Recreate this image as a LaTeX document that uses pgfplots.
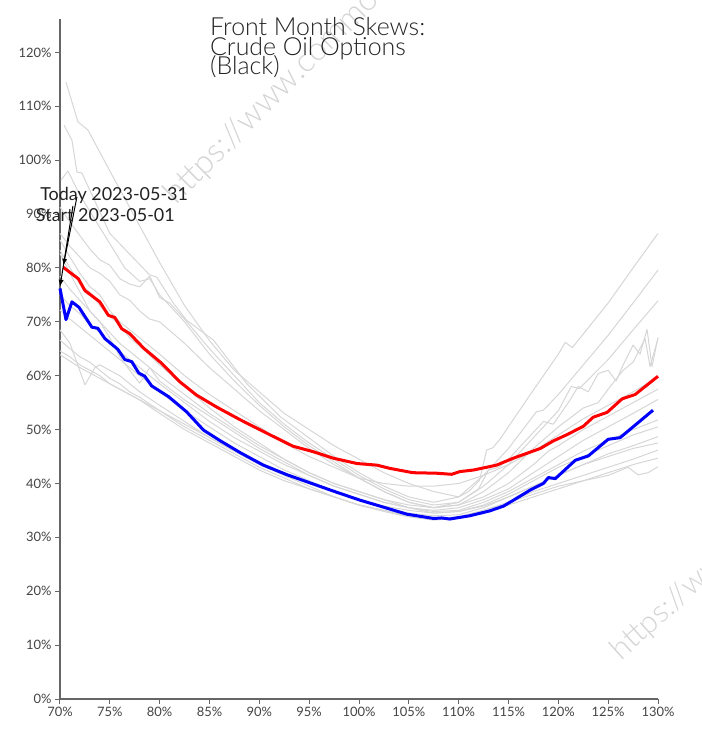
\documentclass[border=0pt]{standalone}
\usepackage{fontspec}
\setmainfont{Lato}
\newfontfamily\lightfont{Lato Light}
\usepackage{pgfplots}
\pgfplotsset{compat=1.18}
\usetikzlibrary{arrows.meta}
\definecolor{tickgray}{HTML}{444444}
\definecolor{axgray}{HTML}{666666}
\definecolor{skewgray}{HTML}{D6D6D6}
\definecolor{wm}{HTML}{D4D4D4}
\begin{document}
\begin{tikzpicture}
\useasboundingbox (-60bp,-31bp) rectangle (642bp,699bp);
\begin{axis}[
  width=598bp, height=680bp, scale only axis,
  xmin=70, xmax=130, ymin=0, ymax=126.2,
  clip=false,
  axis lines=left,
  axis line style={draw=axgray, line width=1.3bp, -},
  tick style={draw=axgray, line width=1bp},
  tick align=outside, major tick length=5bp,
  xtick={70,75,...,130}, ytick={0,10,...,120},
  xticklabel={\pgfmathprintnumber{\tick}\%},
  yticklabel={\pgfmathprintnumber{\tick}\%},
  /pgf/number format/assume math mode=true,
  ticklabel style={font=\fontsize{13}{13}\selectfont, text=tickgray},
  every axis plot/.append style={line join=round, mark=none},
  grey/.style={draw=skewgray, line width=1bp},
]
% watermarks
\node[overlay, anchor=base west, rotate=45, text=wm, font=\lightfont\fontsize{33}{33}\selectfont, inner sep=0] at (axis cs:81.7,91.6) {https://www.commodity};
\node[overlay, anchor=base west, rotate=42, text=wm, font=\lightfont\fontsize{31}{31}\selectfont, inner sep=0] at (axis cs:126.3,7.0) {https://www.commodity};
% grey historical skews
\addplot[grey] coordinates {(70.6,114.5) (71.8,107.1) (72.8,105.6) (75,98) (77.5,89.5) (80,81) (82.5,73) (85,66.5) (87.5,61) (90,57) (92.5,53) (95,50) (97.5,47) (100,44.5) (102.5,42) (105,40) (107.5,38.5) (110,37.5) (111,38.5) (112.1,40.6) (112.8,46.2) (113.4,46.6) (114.1,48.1) (117,56) (120,64) (120.7,66.2) (121.4,65.2) (125,73.5) (127.5,80) (130,86.4)};
\addplot[grey] coordinates {(70.4,106.5) (71.2,103.7) (71.7,97.8) (72.2,97.6) (75,86.4) (79,78.7) (79.7,78.3) (81.4,73.4) (82.7,70.3) (85.4,66.6) (88.7,58.6) (92.1,52.4) (94.8,48.7) (97.5,45) (100,42) (102.5,39.5) (105,37.5) (107.5,36.5) (110,37.5) (112.5,41.5) (115,46.5) (117.8,53.3) (118.5,53.6) (120,56.5) (122.5,62) (125,67.5) (127.5,73.5) (130,79.6)};
\addplot[grey] coordinates {(70.1,96.3) (70.8,98) (72,93.5) (73.5,89) (75,84.5) (76.5,80) (78,77.5) (79,78) (80,75) (82.5,70) (85,64) (87.5,59) (90,54.5) (92.5,50.5) (95,47) (97.5,44) (100,41) (102.5,38.5) (105,36.5) (107.5,35.5) (110,36.5) (112.5,39.5) (115,43.5) (117.5,48.5) (120,53.5) (121.3,58) (122.1,57.6) (125,63) (127.5,68.5) (130,73.9)};
\addplot[grey] coordinates {(70,91.3) (71,88.5) (72,86) (73,83.5) (74,81.5) (75,80.5) (76,78) (77,77) (78,76.5) (79,78.5) (80,74.5) (81,73.5) (82.5,70.5) (85,65) (87.5,60) (90,55) (92.5,51) (95,47.5) (97.5,44.5) (100,41.5) (102.5,39) (105,37) (107.5,36) (110,36.5) (112,39) (113,42.5) (114,43) (115,44.5) (117.5,49.5) (118.5,51.5) (119.5,51) (121,55) (122,58) (123,57) (124,60.4) (125,61) (125.8,59) (126.5,62) (127.5,65.7) (128.2,64) (128.9,68.6) (129.4,61.7) (130,67.1)};
\addplot[grey] coordinates {(70,86.4) (71,84) (72,82) (73,80) (74,79) (75,77.5) (76,75) (77,74) (78,72) (79,70.5) (80,70) (82.5,66) (85,61.5) (87.5,57.5) (90,53.5) (92.5,50) (95,46.5) (97.5,43.5) (100,41) (102.5,38.5) (105,36.5) (107.5,35.5) (110,36) (112.5,38.5) (115,42) (117.5,46.5) (120,50.5) (122.5,54) (124,55) (125,57.5) (126.5,61) (127.5,62.5) (128.7,66.9) (129.2,61.7) (130,66.9)};
\addplot[grey] coordinates {(70,85.2) (71,82) (72,79) (73,76.5) (74,75) (75,72) (76,70) (77,68.5) (78,67) (80,64) (82.5,60) (85,56.5) (87.5,53.5) (90,50.5) (92.5,47.5) (95,45) (97.5,43) (100,41) (102.5,40) (105,39.5) (107.5,39.5) (110,40) (112.5,41.5) (115,43.5) (117.5,46) (120,49) (122.5,52) (125,54.5) (127.5,57) (130,59.7)};
\addplot[grey] coordinates {(70,83.3) (71,80) (72,77) (73,75.5) (74,73) (75,71) (76,69.5) (77,67) (78,65.5) (80,62) (82.5,58) (85,54) (87.5,50.5) (90,47.5) (92.5,44.5) (95,42) (97.5,40) (100,38.5) (102.5,37) (105,36) (107.5,35.5) (110,36) (112.5,37.5) (115,40) (117.5,43.5) (119,46) (120,47) (122.5,50) (125,52.5) (127.5,55) (130,57.5)};
\addplot[grey] coordinates {(70,82.7) (71,79) (72,75.5) (73,72) (74,70) (75,67) (76,63.5) (77,61) (78,58.6) (79,61.5) (80,59) (82.5,55.5) (85,52.5) (87.5,49.5) (90,46.5) (92.5,44) (95,41.5) (97.5,39.5) (100,38) (102.5,36.5) (105,35.5) (107.5,35) (110,35.5) (112.5,37) (115,39) (117.5,42) (120,45) (122.5,48) (125,50.5) (127.5,53) (130,55.6)};
\addplot[grey] coordinates {(70,78.5) (71,76) (72,74) (73,72) (74,70) (75,68) (76,66) (77,64.5) (78,63) (80,60) (82.5,56.5) (85,53) (87.5,50) (90,47) (92.5,44.5) (95,42) (97.5,40) (100,38.5) (102.5,37) (105,35.5) (107.5,34.8) (110,35) (112.5,36.5) (115,38.5) (117.5,41) (120,43.5) (122.5,46) (125,48) (127.5,50) (130,51.8)};
\addplot[grey] coordinates {(70,75) (71,73) (72,71.5) (73,69.5) (74,68) (75,66) (76,64.5) (77,63) (78,61.5) (80,58.5) (82.5,55) (85,51.5) (87.5,48.5) (90,46) (92.5,43.5) (95,41.5) (97.5,39.5) (100,38) (102.5,36.5) (105,35.5) (107.5,34.5) (110,34.8) (112.5,36) (115,38) (117.5,40.5) (120,43) (122.5,45) (125,47) (127.5,49) (130,50.5)};
\addplot[grey] coordinates {(70,72.2) (71,70.5) (72,69) (73,67.5) (74,66) (75,64.5) (76,63) (77,61.5) (78,60) (80,57) (82.5,53.5) (85,50.5) (87.5,47.5) (90,45) (92.5,42.5) (95,40.5) (97.5,38.5) (100,37) (102.5,35.5) (105,34.5) (107.5,34) (110,34.2) (112.5,35.5) (115,37.5) (117.5,39.5) (120,41.5) (122.5,43.5) (125,45.5) (127.5,47) (130,48.7)};
\addplot[grey] coordinates {(70,68.5) (71,66) (72.5,58.3) (73.5,61.5) (74,62) (75,61) (76,60) (77,58.5) (78,57) (80,54.5) (82.5,51.5) (85,48.5) (87.5,46) (90,43.5) (92.5,41.5) (95,39.5) (97.5,37.5) (100,36) (102.5,35) (105,34) (107.5,33.5) (110,33.8) (112.5,35) (115,36.5) (117.5,38.5) (120,40) (122.5,41.5) (125,43) (127.5,44.5) (130,46.2)};
\addplot[grey] coordinates {(70,66.6) (71,65) (72,63.5) (73,62.5) (74,61) (75,59.5) (76,58.5) (77,57) (78,56) (80,53.5) (82.5,50.5) (85,48) (87.5,45.5) (90,43) (92.5,41) (95,39) (97.5,37.5) (100,36) (102.5,34.8) (105,33.8) (107.5,33.2) (110,33.5) (112.5,34.5) (115,36) (117.5,37.5) (120,39) (122.5,40.5) (125,42) (127.5,43.5) (130,44.7)};
\addplot[grey] coordinates {(70,64.6) (71,63.5) (72,62) (73,61) (74,60) (75,58.5) (76,57.5) (77,56.5) (78,55.5) (80,53) (82.5,50) (85,47.5) (87.5,45) (90,42.5) (92.5,40.5) (95,39) (97.5,37.5) (100,36) (102.5,35) (105,34) (107.5,33.5) (110,33.8) (112.5,35) (115,36.5) (117.5,38) (120,39.5) (122.5,40.5) (125,41.5) (127,43) (128,41.6) (129,42) (130,43.1)};
\addplot[grey] coordinates {(70,63.9) (72,61.5) (74,59.5) (76,57.5) (78,55.5) (80,53.5) (82.5,51) (85,48.5) (87.5,46) (90,44) (92.5,42) (95,40) (97.5,38.5) (100,37) (102.5,35.8) (105,35) (107.5,34.5) (110,34.8) (112.5,35.8) (115,37.5) (117.5,39.5) (120,41.5) (122.5,43.5) (125,45) (127.5,46.5) (130,47.5)};
% start (blue) and today (red)
\addplot[draw={rgb,255:red,0;green,0;blue,255}, line width=3bp] coordinates {(70.0,76.2) (70.6,70.4) (71.2,73.7) (71.9,72.7) (73.2,69.0) (73.8,68.8) (74.5,66.9) (75.8,64.9) (76.5,63.0) (77.2,62.6) (77.9,60.5) (78.5,59.9) (79.2,58.1) (80.9,56.1) (82.7,53.3) (84.4,49.9) (86.1,47.9) (88.1,45.7) (90.4,43.4) (92.8,41.6) (94.8,40.3) (97.4,38.6) (100.1,36.9) (102.1,35.8) (104.8,34.3) (107.5,33.5) (108.3,33.6) (109.1,33.4) (111.1,34.0) (113.1,34.9) (114.5,35.8) (115.5,36.9) (117.2,38.8) (118.5,40.0) (119.0,41.1) (119.7,40.9) (121.7,44.3) (123.0,45.1) (125.0,48.2) (126.2,48.5) (129.5,53.6)};
\addplot[draw={rgb,255:red,255;green,0;blue,0}, line width=3bp] coordinates {(70.33,80.1) (71.84,78.0) (72.5,75.8) (74.0,73.7) (74.85,71.2) (75.5,70.8) (76.2,68.7) (77.0,67.8) (78.4,65.1) (80.2,62.3) (82.0,58.9) (83.7,56.4) (85.7,54.2) (88.1,51.8) (91.1,49.0) (93.4,46.9) (95.4,45.9) (97.4,44.7) (99.8,43.7) (101.8,43.4) (103.1,42.8) (105.4,42.0) (107.8,41.9) (109.3,41.7) (110.1,42.2) (111.5,42.5) (113.8,43.4) (115.5,44.7) (118.2,46.5) (119.5,47.9) (120.8,49.0) (122.5,50.6) (123.5,52.3) (124.9,53.2) (126.4,55.7) (127.7,56.5) (130.0,59.9)};
% annotations
\draw[line width=1bp, -{Latex[length=7bp,width=5bp]}] (axis cs:71.7,93.2) -- (axis cs:70.33,80.4);
\draw[line width=1bp, -{Latex[length=7bp,width=5bp]}] (axis cs:71.3,91.5) -- (axis cs:70.0,76.5);
\node[anchor=base west, inner sep=0, text={rgb,255:red,34;green,34;blue,34}, font=\fontsize{18}{18}\selectfont] at (axis cs:68.0,92.6) {Today 2023-05-31};
\node[anchor=base west, inner sep=0, text={rgb,255:red,34;green,34;blue,34}, font=\fontsize{18}{18}\selectfont] at (axis cs:67.57,88.7) {Start 2023-05-01};
% title
\node[anchor=base west, inner sep=0, text={rgb,255:red,34;green,34;blue,34}, font=\lightfont\fontsize{25}{25}\selectfont] at (axis cs:85.05,123.06) {Front Month Skews:};
\node[anchor=base west, inner sep=0, text={rgb,255:red,34;green,34;blue,34}, font=\lightfont\fontsize{25}{25}\selectfont] at (axis cs:85.05,119.5) {Crude Oil Options};
\node[anchor=base west, inner sep=0, text={rgb,255:red,34;green,34;blue,34}, font=\lightfont\fontsize{25}{25}\selectfont] at (axis cs:85.05,115.96) {(Black)};
\end{axis}
\end{tikzpicture}
\end{document}
